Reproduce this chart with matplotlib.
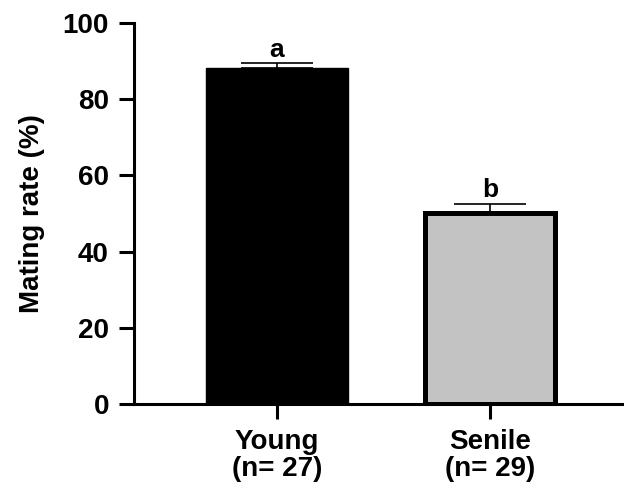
import matplotlib.pyplot as plt
import numpy as np

plt.rcParams["font.family"] = ["Liberation Sans", "DejaVu Sans"]
plt.rcParams["font.weight"] = "bold"

groups = ["Young\n(n= 27)", "Senile\n(n= 29)"]
rates = [88.2, 50.2]
sem = [1.3, 2.3]
letters = ["a", "b"]
face_colors = ["black", "#c3c3c3"]

fig = plt.figure(figsize=(6.24, 4.9), dpi=100)
ax = fig.add_axes([0.2147, 0.1755, 0.7853, 0.7775])

x = np.arange(len(groups))
widths = [0.667, 0.606]
edge_widths = [1.0, 3.6]
for i in range(len(groups)):
    ax.bar(x[i], rates[i], width=widths[i], color=face_colors[i],
           edgecolor="black", linewidth=edge_widths[i], zorder=2)
    ax.errorbar(x[i], rates[i], yerr=[[0], [sem[i]]], fmt="none",
                ecolor="black", elinewidth=1.2, capsize=26, capthick=1.2, zorder=3)
    ax.text(x[i], rates[i] + sem[i] + 0.4, letters[i], ha="center", va="bottom",
            fontsize=19, fontweight="bold")

ax.set_xlim(-0.671, 1.629)
ax.set_ylim(0, 100)
ax.set_yticks([0, 20, 40, 60, 80, 100])
ax.set_xticks(x)
ax.set_xticklabels(groups, fontsize=20, fontweight="bold", linespacing=1.05)
ax.set_ylabel("Mating rate (%)", fontsize=20, fontweight="bold", labelpad=13)

for side in ["top", "right"]:
    ax.spines[side].set_visible(False)
for side in ["left", "bottom"]:
    ax.spines[side].set_linewidth(2.2)
ax.spines["bottom"].set_zorder(4)

ax.tick_params(axis="y", length=11, width=2.2, labelsize=20, pad=7)
ax.tick_params(axis="x", length=11, width=2.2, labelsize=20, pad=7)
for lbl in ax.get_yticklabels():
    lbl.set_fontweight("bold")

fig.savefig("out.png", dpi=100)
